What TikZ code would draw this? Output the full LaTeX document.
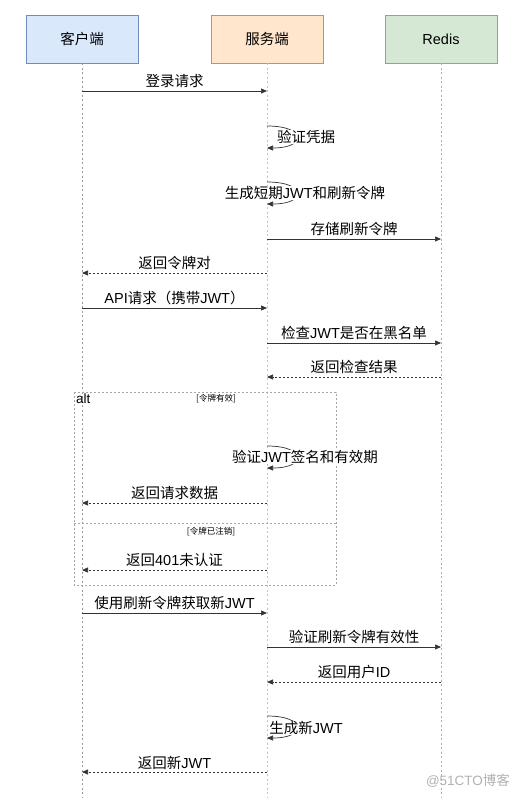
\documentclass[tikz,border=0pt]{standalone}
\usepackage{fontspec}
\setmainfont{Noto Sans CJK SC}
\newfontfamily\lat{Liberation Sans}
\newcommand{\la}[1]{{\lat #1}}
\usetikzlibrary{arrows.meta}
\definecolor{cfill}{HTML}{DAE8FC}\definecolor{cline}{HTML}{6C8EBF}
\definecolor{sfill}{HTML}{FFE6CC}\definecolor{sline}{HTML}{D79B00}
\definecolor{rfill}{HTML}{D5E8D4}\definecolor{rline}{HTML}{82B366}
\begin{document}
\begin{tikzpicture}[x=1pt,y=-1pt,
  actor/.style={draw, minimum width=112pt, minimum height=48pt, inner sep=0pt, font=\fontsize{14.5}{16}\selectfont},
  lbl/.style={fill=white, inner sep=0.5pt, font=\fontsize{14.5}{16}\selectfont},
  small/.style={inner sep=0pt, font=\fontsize{8.5}{10}\selectfont},
  msg/.style={draw=black!80, line width=0.7pt, -{Triangle[length=6pt,width=5pt]}},
  ret/.style={msg, dash pattern=on 2pt off 2pt},
  life/.style={line width=0.6pt, dash pattern=on 2pt off 2.5pt},
  frame/.style={draw=black!35, line width=0.6pt, dash pattern=on 2pt off 2pt}]
\useasboundingbox (0,0) rectangle (523,798);
\fill[white] (0,0) rectangle (523,798);
% actors
\node[actor, fill=cfill, draw=cline] (cli) at (82,39) {客户端};
\node[actor, fill=sfill, draw=sline] (srv) at (267,39) {服务端};
\node[actor, fill=rfill, draw=rline] (red) at (441,39) {\la{Redis}};
\coordinate (cend) at (82,798);
\coordinate (send) at (267,798);
\coordinate (rend) at (441,798);
\draw[life, draw=black!40] (cli.south) -- (cend);
\draw[life, draw=sline!60] (srv.south) -- (send);
\draw[life, draw=rline!60!black!50] (red.south) -- (rend);
% alt frame
\coordinate (fa) at (74,392); \coordinate (fb) at (336,585);
\coordinate (da) at (74,523); \coordinate (db) at (336,523);
\draw[frame] (fa) rectangle (fb);
\draw[frame] (da) -- (db);
\node[anchor=north west, inner sep=0pt, font=\lat\fontsize{13.5}{15}\selectfont] (altl) at (76,394) {alt};
\node[small] (g1) at (216,399) {[令牌有效]};
\node[small] (g2) at (211,532) {[令牌已注销]};
% messages
\coordinate (c1) at (82,91); \coordinate (s1) at (267,91);
\draw[msg] (c1) -- (s1) node[lbl, midway, above=2pt] (m1) {登录请求};
\coordinate (s2a) at (267,126); \coordinate (s2b) at (267,148);
\draw[msg] (s2a) .. controls +(40,0) and +(40,0) .. (s2b);
\node[lbl] (m2) at (306,137) {验证凭据};
\coordinate (s3a) at (267,182); \coordinate (s3b) at (267,204);
\draw[msg] (s3a) .. controls +(40,0) and +(40,0) .. (s3b);
\node[lbl] (m3) at (305,193) {生成短期\la{JWT}和刷新令牌};
\coordinate (s4) at (267,239); \coordinate (r4) at (441,239);
\draw[msg] (s4) -- (r4) node[lbl, midway, above=2pt] (m4) {存储刷新令牌};
\coordinate (s5) at (267,273); \coordinate (c5) at (82,273);
\draw[ret] (s5) -- (c5) node[lbl, midway, above=2pt] (m5) {返回令牌对};
\coordinate (c6) at (82,308); \coordinate (s6) at (267,308);
\draw[msg] (c6) -- (s6) node[lbl, midway, above=2pt] (m6) {\la{API}请求（携带\la{JWT}）};
\coordinate (s7) at (267,343); \coordinate (r7) at (441,343);
\draw[msg] (s7) -- (r7) node[lbl, midway, above=2pt] (m7) {检查\la{JWT}是否在黑名单};
\coordinate (r8) at (441,377); \coordinate (s8) at (267,377);
\draw[ret] (r8) -- (s8) node[lbl, midway, above=2pt] (m8) {返回检查结果};
\coordinate (s9a) at (267,446); \coordinate (s9b) at (267,468);
\draw[msg] (s9a) .. controls +(40,0) and +(40,0) .. (s9b);
\node[lbl] (m9) at (305,457) {验证\la{JWT}签名和有效期};
\coordinate (s10) at (267,503); \coordinate (c10) at (82,503);
\draw[ret] (s10) -- (c10) node[lbl, midway, above=2pt] (m10) {返回请求数据};
\coordinate (s11) at (267,570); \coordinate (c11) at (82,570);
\draw[ret] (s11) -- (c11) node[lbl, midway, above=2pt] (m11) {返回\la{401}未认证};
\coordinate (c12) at (82,613); \coordinate (s12) at (267,613);
\draw[msg] (c12) -- (s12) node[lbl, midway, above=2pt] (m12) {使用刷新令牌获取新\la{JWT}};
\coordinate (s13) at (267,647); \coordinate (r13) at (441,647);
\draw[msg] (s13) -- (r13) node[lbl, midway, above=2pt] (m13) {验证刷新令牌有效性};
\coordinate (r14) at (441,682); \coordinate (s14) at (267,682);
\draw[ret] (r14) -- (s14) node[lbl, midway, above=2pt] (m14) {返回用户\la{ID}};
\coordinate (s15a) at (267,716); \coordinate (s15b) at (267,738);
\draw[msg] (s15a) .. controls +(40,0) and +(40,0) .. (s15b);
\node[lbl] (m15) at (306,728) {生成新\la{JWT}};
\coordinate (s16) at (267,772); \coordinate (c16) at (82,772);
\draw[ret] (s16) -- (c16) node[lbl, midway, above=2pt] (m16) {返回新\la{JWT}};
% watermark
\node[text=black!30, inner sep=0pt, font=\fontsize{13.5}{15}\selectfont] (wm) at (468,781) {\la{@51CTO}博客};
\end{tikzpicture}
\end{document}
